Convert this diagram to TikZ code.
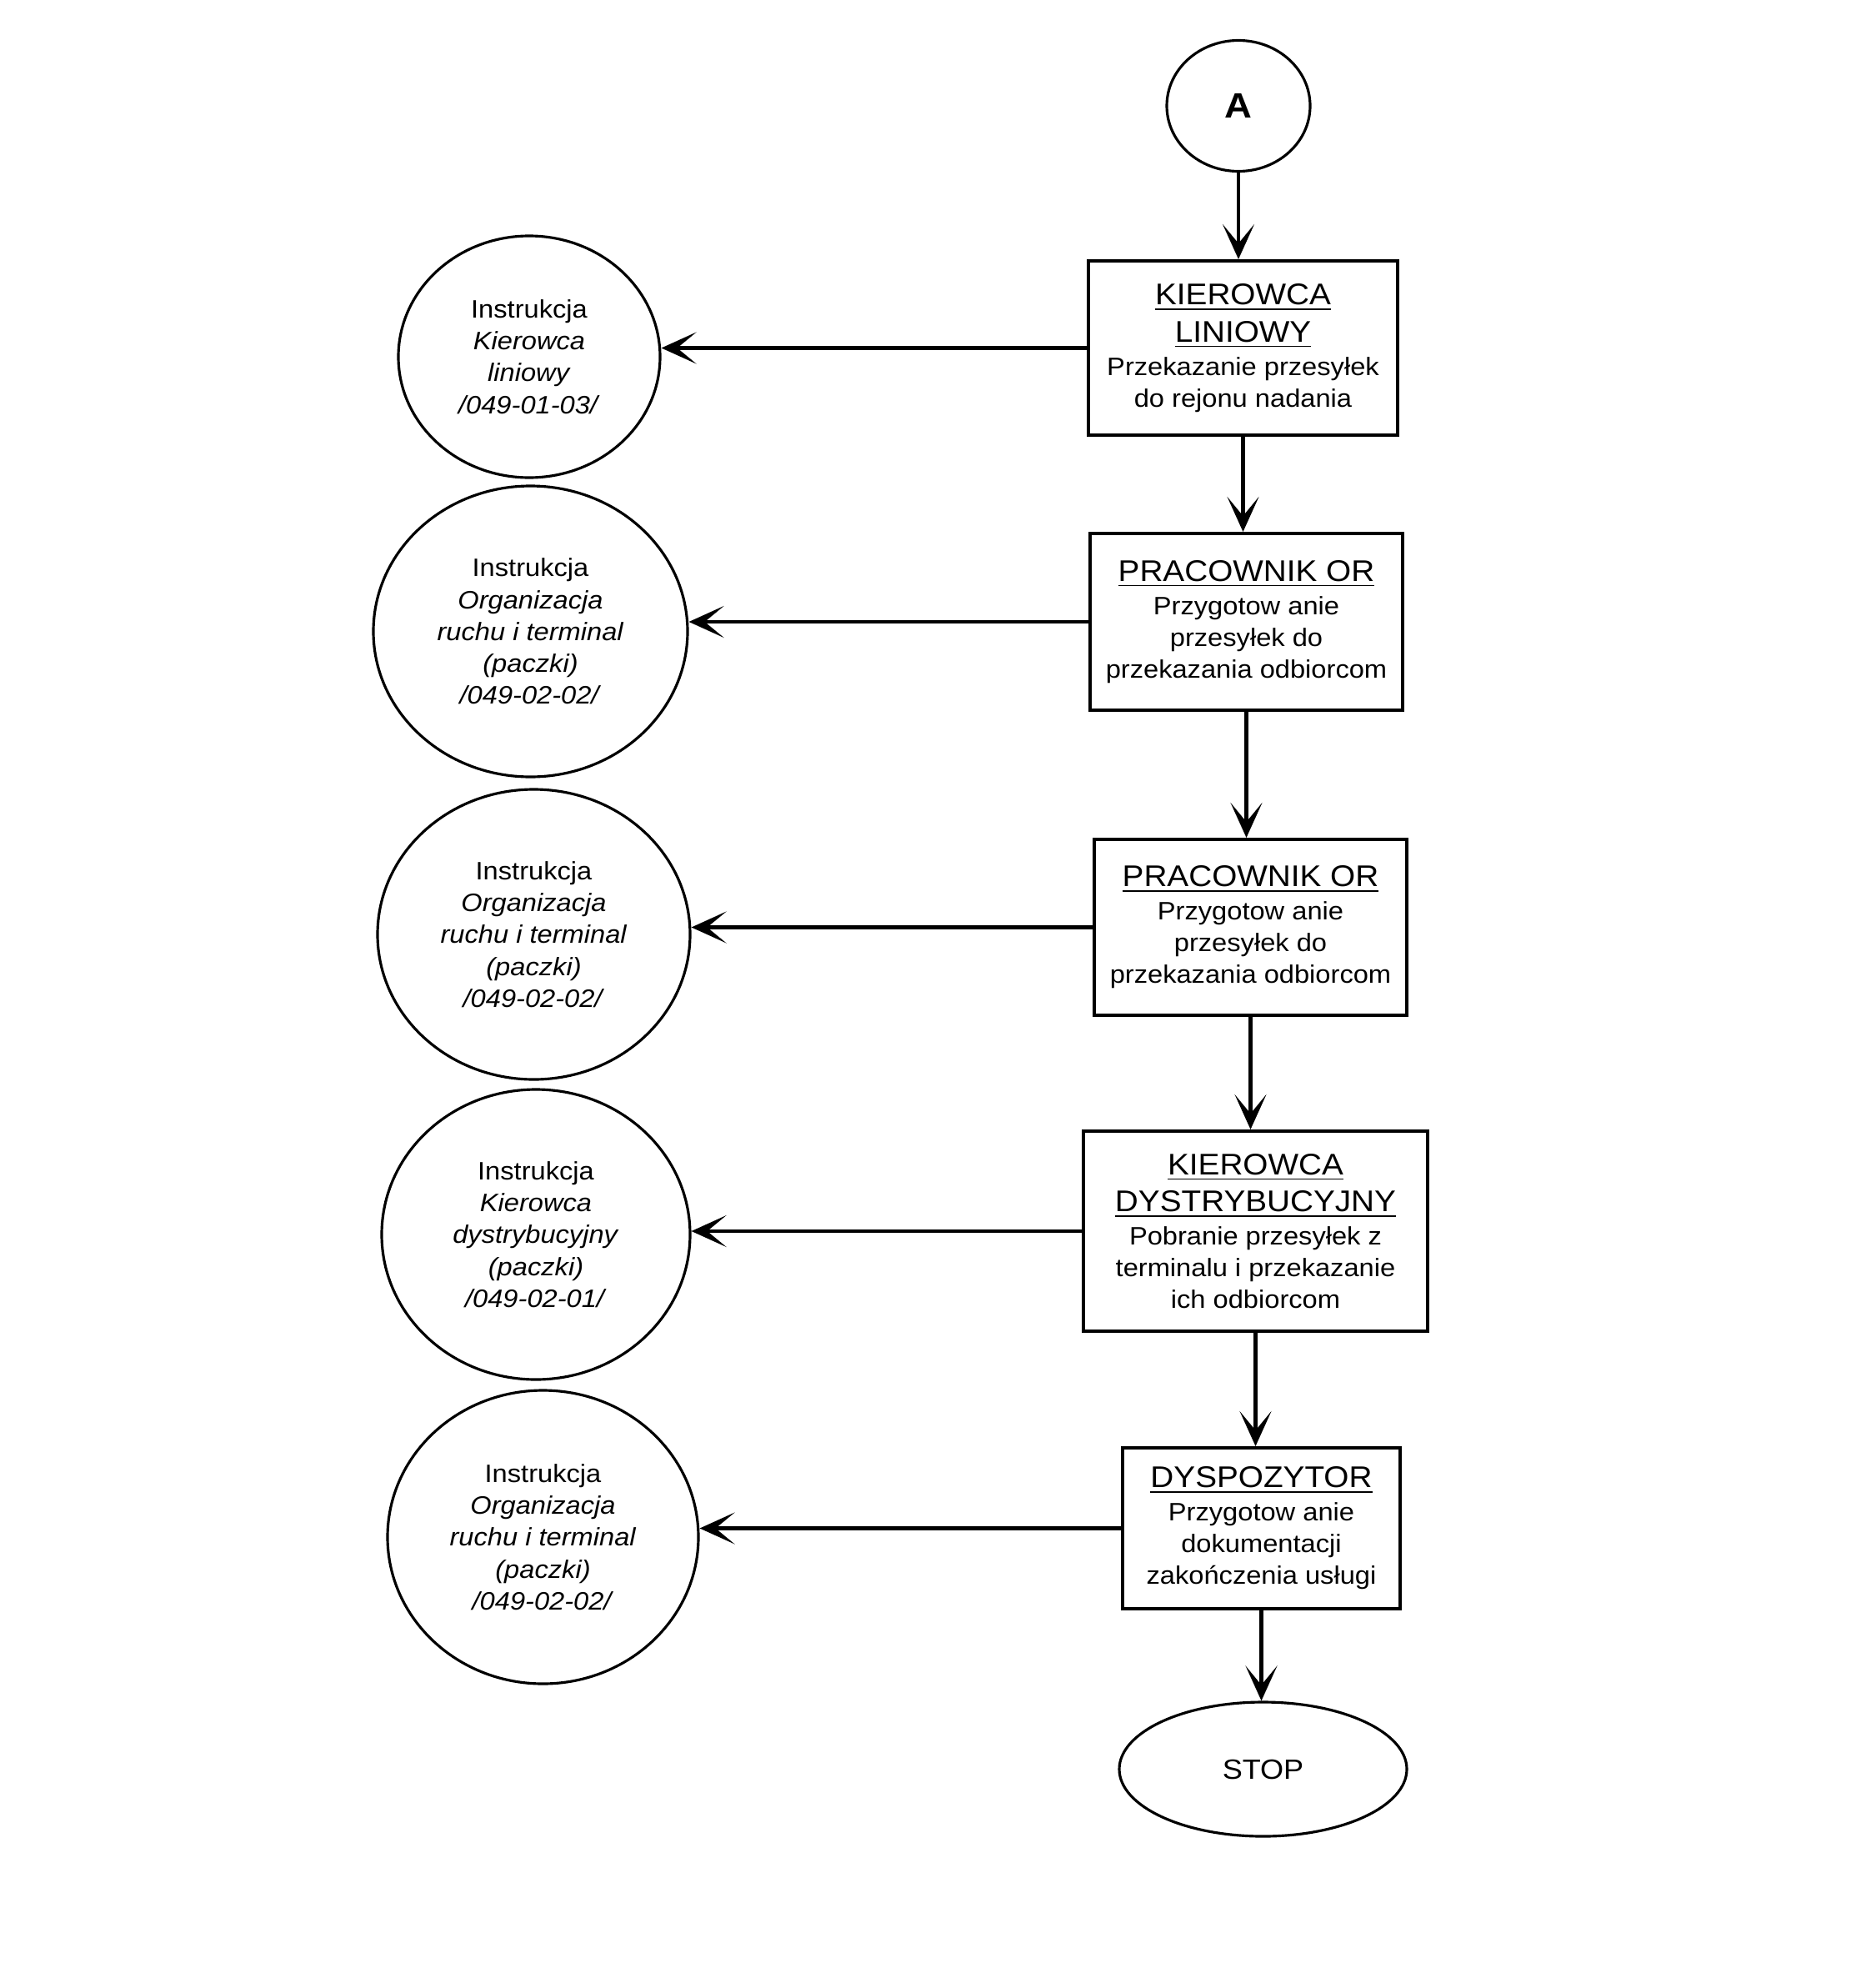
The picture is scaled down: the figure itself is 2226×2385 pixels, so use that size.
\documentclass[tikz,border=0pt]{standalone}
\usepackage{fontspec}
\setmainfont{Liberation Sans}[FakeStretch=1.08]
\usetikzlibrary{shapes.geometric,arrows.meta}

\newcommand{\tf}{\fontsize{10.2}{12.2}\selectfont}
\newcommand{\ul}[1]{\underline{#1}}

\begin{document}
\begin{tikzpicture}[x=0.1mm,y=-0.1mm,
  procbox/.style={draw, line width=1.15pt, rectangle, inner sep=0pt, align=center,
    font=\fontsize{8.6}{10.8}\selectfont},
  refcirc/.style={draw, line width=0.9pt, ellipse, inner sep=0pt, align=center,
    font=\fontsize{8.6}{10.9}\selectfont},
  termnode/.style={draw, line width=0.9pt, ellipse, inner sep=0pt},
  flow/.style={line width=1.2pt, -{Stealth[length=4.2mm,width=3.8mm,inset=2.3mm]}},
]
\useasboundingbox (0,0) rectangle (2226,2385);

% start / stop
\node[termnode, minimum width=17.2mm, minimum height=15.7mm,
      font=\fontsize{12}{14}\selectfont\bfseries] (A) at (1486,127) {A};
\node[termnode, minimum width=34.5mm, minimum height=16.1mm,
      font=\fontsize{9.5}{11}\selectfont] (stop) at (1515.5,2122.5) {STOP};

% process boxes
\node[procbox, minimum width=37.1mm, minimum height=20.9mm] (b1) at (1491.5,417.5)
  {\tf\ul{KIEROWCA}\\[1.8pt] \tf\ul{LINIOWY}\\[0.6pt] Przekazanie przesyłek\\ do rejonu nadania};
\node[procbox, minimum width=37.5mm, minimum height=21.2mm] (b2) at (1495.5,746)
  {\tf\ul{PRACOWNIK OR}\\[0.6pt] Przygotow anie\\ przesyłek do\\ przekazania odbiorcom};
\node[procbox, minimum width=37.5mm, minimum height=21.1mm] (b3) at (1500.5,1112.5)
  {\tf\ul{PRACOWNIK OR}\\[0.6pt] Przygotow anie\\ przesyłek do\\ przekazania odbiorcom};
\node[procbox, minimum width=41.3mm, minimum height=24.0mm] (b4) at (1506.5,1477)
  {\tf\ul{KIEROWCA}\\[1.8pt] \tf\ul{DYSTRYBUCYJNY}\\[0.6pt] Pobranie przesyłek z\\ terminalu i przekazanie\\ ich odbiorcom};
\node[procbox, minimum width=33.3mm, minimum height=19.3mm] (b5) at (1513.5,1833.5)
  {\tf\ul{DYSPOZYTOR}\\[0.6pt] Przygotow anie\\ dokumentacji\\ zakończenia usługi};

% reference circles
\node[refcirc, minimum width=31.4mm, minimum height=29.0mm] (c1) at (635,428)
  {Instrukcja\\ \textit{Kierowca}\\ \textit{liniowy}\\ \textit{/049-01-03/}};
\node[refcirc, minimum width=37.7mm, minimum height=34.9mm] (c2) at (636.5,757.5)
  {Instrukcja\\ \textit{Organizacja}\\ \textit{ruchu i terminal}\\ \textit{(paczki)}\\ \textit{/049-02-02/}};
\node[refcirc, minimum width=37.5mm, minimum height=34.8mm] (c3) at (640.5,1121)
  {Instrukcja\\ \textit{Organizacja}\\ \textit{ruchu i terminal}\\ \textit{(paczki)}\\ \textit{/049-02-02/}};
\node[refcirc, minimum width=37.0mm, minimum height=34.8mm] (c4) at (643,1481)
  {Instrukcja\\ \textit{Kierowca}\\ \textit{dystrybucyjny}\\ \textit{(paczki)}\\ \textit{/049-02-01/}};
\node[refcirc, minimum width=37.3mm, minimum height=35.2mm] (c5) at (651.5,1844)
  {Instrukcja\\ \textit{Organizacja}\\ \textit{ruchu i terminal}\\ \textit{(paczki)}\\ \textit{/049-02-02/}};

% main flow
\draw[flow] (A.south) -- (A.south |- b1.north);
\draw[flow] (b1.south) -- (b1.south |- b2.north);
\draw[flow] (b2.south) -- (b2.south |- b3.north);
\draw[flow] (b3.south) -- (b3.south |- b4.north);
\draw[flow] (b4.south) -- (b4.south |- b5.north);
\draw[flow] (b5.south) -- (b5.south |- stop.north);

% references
\draw[flow] (b1.west) -- (c1.east |- b1.west);
\draw[flow] (b2.west) -- (c2.east |- b2.west);
\draw[flow] (b3.west) -- (c3.east |- b3.west);
\draw[flow] (b4.west) -- (c4.east |- b4.west);
\draw[flow] (b5.west) -- (c5.east |- b5.west);
\end{tikzpicture}
\end{document}
